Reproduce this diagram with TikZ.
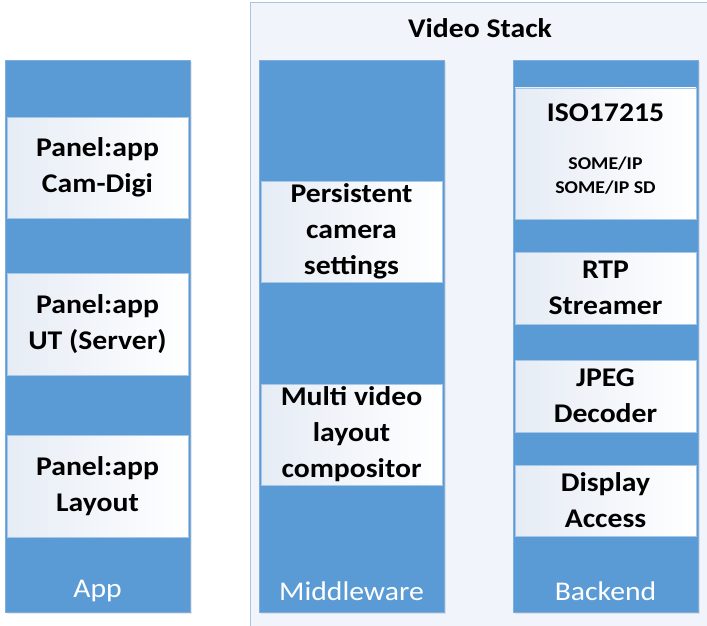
\documentclass[tikz,border=0pt]{standalone}
\usepackage{fontspec}
\setmainfont{Carlito}[FakeStretch=1.1]
\usetikzlibrary{shadows}
\definecolor{cblue}{HTML}{5B9BD5}
\definecolor{colborder}{HTML}{7FADDC}
\definecolor{boxborder}{HTML}{A7C7E8}
\definecolor{boxtint}{HTML}{E6ECF5}
\definecolor{outerfill}{HTML}{F1F4FA}
\definecolor{outerborder}{HTML}{A9C3E3}
\begin{document}
\begin{tikzpicture}[x=1pt,y=-1pt,
  column/.style={draw=colborder, fill=cblue, line width=0.8pt, minimum width=185pt, inner sep=0pt,
    drop shadow={shadow xshift=1.5pt, shadow yshift=-2pt, opacity=0.18}},
  card/.style={draw=boxborder, line width=0.6pt, left color=boxtint, right color=white, minimum width=181pt,
    inner sep=0pt, align=center, font=\bfseries\fontsize{27}{36}\selectfont},
  cardtext/.style={align=center, inner sep=0pt},
  collabel/.style={text=white, font=\fontsize{27}{32}\selectfont, inner sep=0pt},
]
\useasboundingbox (0,0) rectangle (707,626);
\clip (0,0) rectangle (707,626);
% outer video stack frame
\draw[fill=outerfill, draw=outerborder, line width=1pt] (250,3) rectangle (730,650);
\node[font=\bfseries\fontsize{27}{32}\selectfont, inner sep=0pt] (title) at (480,28) {Video Stack};
% columns
\node[column, minimum height=552pt] (app) at (97.5,336) {};
\node[column, minimum height=552pt] (mw) at (351.5,336) {};
\node[column, minimum height=552pt] (be) at (605.5,336) {};
% App cards
\node[card, minimum height=101pt] (a1) at (97.5,167.5) {Panel:app\\Cam-Digi};
\node[card, minimum height=102pt] (a2) at (97.5,324) {Panel:app\\UT (Server)};
\node[card, minimum height=102pt] (a3) at (97.5,486) {Panel:app\\Layout};
% Middleware cards
\node[card, minimum height=101pt] (m1) at (351.5,231.5) {Persistent\\camera\\settings};
\node[card, minimum height=101pt] (m2) at (351.5,434.5) {Multi video\\layout\\compositor};
% Backend cards
\node[card, minimum height=131pt] (b1) at (605.5,153.5) {};
\node[cardtext, font=\bfseries\fontsize{27}{36}\selectfont] (b1t) at (605.5,113) {ISO17215};
\node[cardtext, font=\bfseries\fontsize{18}{24}\selectfont] (b1s) at (605.5,176) {SOME/IP\\SOME/IP SD};
\node[card, minimum height=72pt] (b2) at (605.5,288) {RTP\\Streamer};
\node[card, minimum height=72pt] (b3) at (605.5,396) {JPEG\\Decoder};
\node[card, minimum height=71pt] (b4) at (605.5,500.5) {Display\\Access};
% column labels
\node[collabel] (lapp) at (97.5,591) {App};
\node[collabel] (lmw) at (351.5,591) {Middleware};
\node[collabel] (lbe) at (605.5,591) {Backend};
\end{tikzpicture}
\end{document}
